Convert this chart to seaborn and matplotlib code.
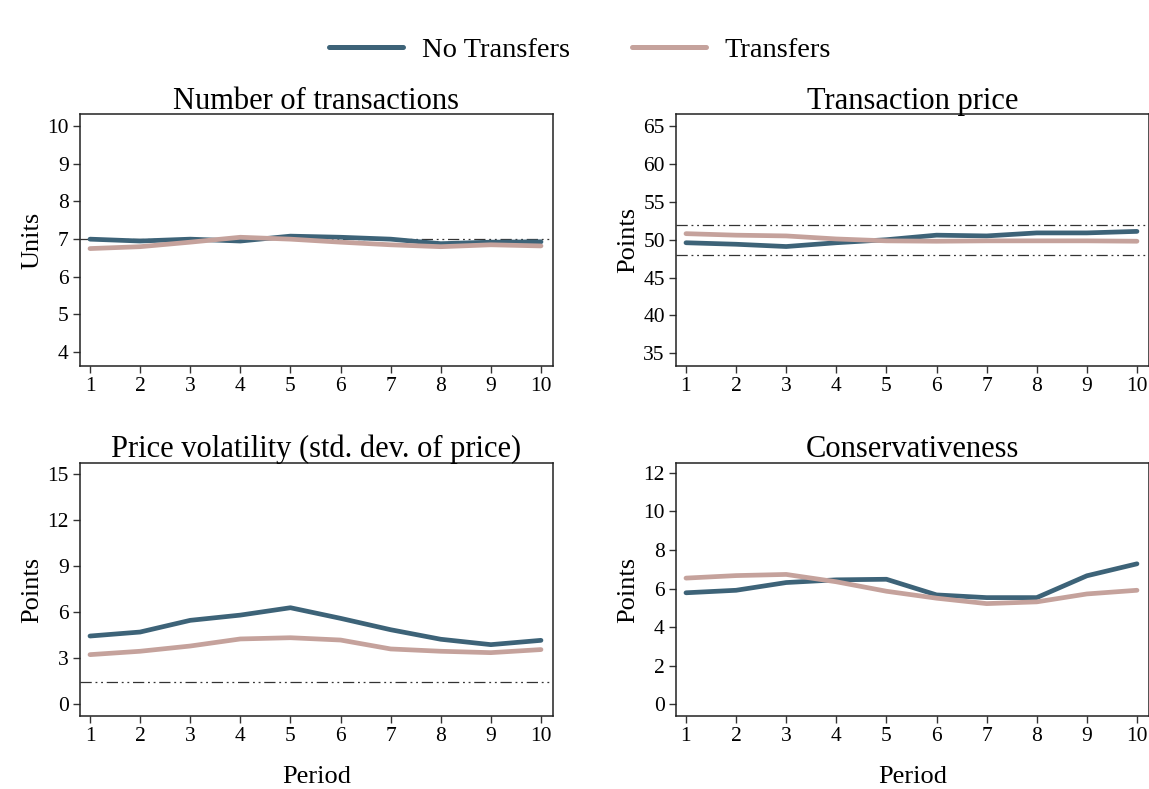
import pandas as pd
import matplotlib
matplotlib.use("Agg")
import matplotlib.pyplot as plt
import seaborn as sns
import numpy as np

# data
period = list(range(1, 11))
groups = ["No Transfers", "Transfers"]

trans_no = [7.0, 6.95, 7.0, 6.95, 7.08, 7.05, 7.0, 6.88, 6.92, 6.93]
trans_yes = [6.75, 6.8, 6.92, 7.05, 7.0, 6.92, 6.85, 6.8, 6.85, 6.82]

price_no = [49.6, 49.4, 49.1, 49.6, 50.0, 50.6, 50.5, 50.9, 50.9, 51.1]
price_yes = [50.8, 50.6, 50.5, 50.1, 49.85, 49.8, 49.85, 49.85, 49.85, 49.8]

vol_no = [4.45, 4.71, 5.47, 5.81, 6.29, 5.6, 4.86, 4.24, 3.89, 4.17]
vol_yes = [3.24, 3.46, 3.8, 4.26, 4.34, 4.19, 3.61, 3.46, 3.37, 3.57]

cons_no = [5.78, 5.91, 6.31, 6.45, 6.48, 5.67, 5.53, 5.53, 6.66, 7.28]
cons_yes = [6.54, 6.67, 6.73, 6.35, 5.86, 5.5, 5.22, 5.31, 5.72, 5.91]

titles = ["Number of transactions", "Transaction price",
          "Price volatility (std. dev. of price)", "Conservativeness"]
ylabels = ["Units", "Points", "Points", "Points"]
yticks = [[4, 5, 6, 7, 8, 9, 10], [35, 40, 45, 50, 55, 60, 65],
          [0, 3, 6, 9, 12, 15], [0, 2, 4, 6, 8, 10, 12]]
ylims = [(3.63, 10.32), (33.3, 66.6), (-0.75, 15.7), (-0.6, 12.5)]
refs = [[7], [48, 52], [1.43], []]

series = [(trans_no, trans_yes), (price_no, price_yes),
          (vol_no, vol_yes), (cons_no, cons_yes)]

sns.set_style("white")
plt.rcParams["font.family"] = ["Liberation Serif", "DejaVu Serif"]
plt.rcParams["text.color"] = "black"
plt.rcParams["axes.labelcolor"] = "black"
plt.rcParams["xtick.color"] = "black"
plt.rcParams["ytick.color"] = "black"

palette = {"No Transfers": "#3d6378", "Transfers": "#c5a29c"}

fig = plt.figure(figsize=(11.49, 7.89), dpi=100)
positions = [[0.0696, 0.536, 0.4117, 0.3194], [0.5883, 0.536, 0.4117, 0.3194],
             [0.0696, 0.0925, 0.4117, 0.3207], [0.5883, 0.0925, 0.4117, 0.3207]]

for i in range(4):
    ax = fig.add_axes(positions[i])
    no, yes = series[i]
    df = pd.DataFrame({
        "Period": period * 2,
        "value": no + yes,
        "group": [groups[0]] * 10 + [groups[1]] * 10,
    })
    for r in refs[i]:
        ax.axhline(r, color="#333333", lw=0.9,
                   ls=(0, (9, 3, 1.5, 3, 1.5, 3)), zorder=1)
    sns.lineplot(data=df, x="Period", y="value", hue="group", palette=palette,
                 lw=3.4, ax=ax, legend=False, zorder=3)
    ax.set_xlim(0.8, 10.24)
    ax.set_ylim(*ylims[i])
    ax.set_xticks(period)
    ax.set_yticks(yticks[i])
    ax.set_title(titles[i], fontsize=22, pad=4)
    ax.set_ylabel(ylabels[i], fontsize=19, labelpad=3)
    if i >= 2:
        ax.set_xlabel("Period", fontsize=19, labelpad=14)
    else:
        ax.set_xlabel("")
    ax.tick_params(axis="both", direction="out", length=5, width=1,
                   color="#333333", labelsize=15.5, pad=3,
                   left=True, bottom=True)
    for s in ax.spines.values():
        s.set_color("#222222")
        s.set_linewidth(1.1)

handles = [plt.Line2D([], [], color=palette[g], lw=3.6) for g in groups]
fig.legend(handles, groups, loc="center", bbox_to_anchor=(0.505, 0.937),
           ncol=2, frameon=False, fontsize=20.5, handlelength=2.6,
           columnspacing=2.2, handletextpad=0.65)

fig.savefig("out.png", dpi=100)
